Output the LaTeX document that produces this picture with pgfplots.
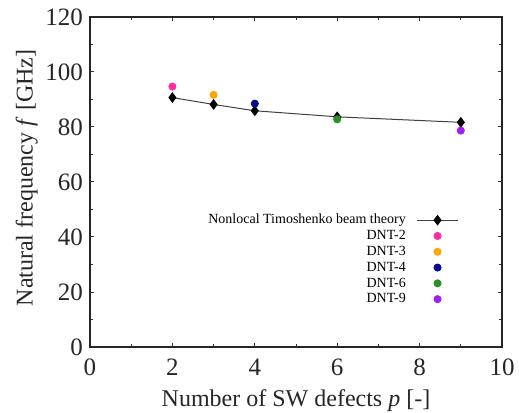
\documentclass[border=0pt]{standalone}
\usepackage{fontspec}
\setmainfont{Liberation Serif}
\usepackage{pgfplots}
\pgfplotsset{compat=1.18}
\definecolor{cpink}{HTML}{FF2FA0}
\definecolor{corange}{HTML}{FFA500}
\definecolor{cnavy}{HTML}{0A0A90}
\definecolor{cgreen}{HTML}{2A8F2A}
\definecolor{cpurple}{HTML}{A020F0}
\begin{document}
\begin{tikzpicture}
\path[use as bounding box] (-45pt,-32.5pt) rectangle (214.5pt,173.5pt);
\begin{axis}[
  scale only axis, width=206pt, height=165pt,
  xmin=0, xmax=10, ymin=0, ymax=120,
  xtick={0,2,4,6,8,10}, ytick={0,20,40,60,80,100,120},
  xticklabels={0,2,4,6,8,10},
  yticklabels={0,20,40,60,80,100,120},
  minor x tick num=1, minor y tick num=1,
  tick align=inside,
  major tick length=2.2pt, minor tick length=1.6pt,
  axis line style={line width=0.7pt, black!85},
  every tick/.style={black!80, line width=0.5pt},
  ticklabel style={font=\rmfamily\fontsize{12.5}{14}\selectfont, text=black!85},
  xticklabel style={yshift=-2.5pt},
  xlabel={Number of SW defects \textit{p} [-]},
  ylabel={Natural frequency \textit{f} [GHz]},
  label style={font=\fontsize{12}{14}\selectfont, text=black!85},
  ylabel style={xshift=2pt, yshift=-3pt},
  legend plot pos=right,
  legend cell align=right,
  legend style={draw=none, fill=none, at={(axis cs:9.1,50.6)}, anchor=north east,
    font=\fontsize{7}{8}\selectfont, row sep=0pt, column sep=5pt,
    nodes={inner sep=0.4pt, text height=5.4pt, text depth=1.7pt}},
  legend image code/.code={\draw[mark repeat=2,mark phase=2,#1] plot coordinates {(0cm,0cm) (0.36cm,0cm) (0.72cm,0cm)};},
]
\addplot[black!75, line width=0.5pt, mark=diamond*, mark size=2.3pt, mark options={fill=black, draw=black, solid}]
  coordinates {(2,90.7) (3,88.2) (4,85.9) (6,83.7) (9,81.7)};
\addlegendentry{Nonlocal Timoshenko beam theory}
\addplot[only marks, mark=*, mark size=1.8pt, color=cpink] coordinates {(2,94.7)};
\addlegendentry{DNT-2}
\addplot[only marks, mark=*, mark size=1.8pt, color=corange] coordinates {(3,91.7)};
\addlegendentry{DNT-3}
\addplot[only marks, mark=*, mark size=1.8pt, color=cnavy] coordinates {(4,88.5)};
\addlegendentry{DNT-4}
\addplot[only marks, mark=*, mark size=1.8pt, color=cgreen] coordinates {(6,82.8)};
\addlegendentry{DNT-6}
\addplot[only marks, mark=*, mark size=1.8pt, color=cpurple] coordinates {(9,78.7)};
\addlegendentry{DNT-9}
\end{axis}
\end{tikzpicture}
\end{document}
